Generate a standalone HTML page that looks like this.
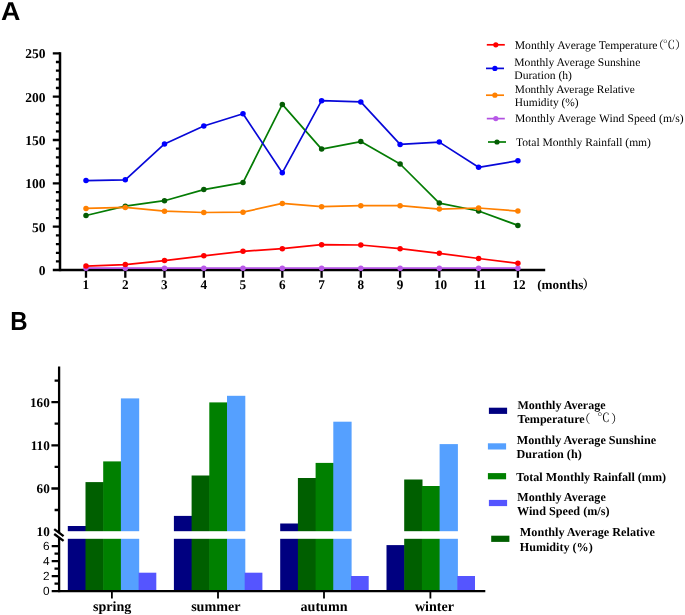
<!DOCTYPE html>
<html><head><meta charset="utf-8"><title>Figure</title>
<style>
html,body{margin:0;padding:0;background:#fff;}
svg{display:block}
text{text-rendering:geometricPrecision;font-family:"Liberation Serif","Noto Serif CJK SC",serif;fill:#000}
.sb{font-family:"Liberation Sans",sans-serif;font-weight:bold}
.b{font-weight:bold}
.sn{font-family:"Liberation Sans",sans-serif}
</style></head><body>
<svg width="685" height="615" viewBox="0 0 685 615">
<rect width="685" height="615" fill="#fff"/>
<text class="sb" transform="translate(1.1,20.4) scale(1.04,1)" font-size="25.8">A</text>
<text class="sb" transform="translate(10.25,330.1) scale(0.92,1)" font-size="26.1">B</text>
<g stroke="#000" stroke-width="2.5" fill="none">
<path d="M60 52.2V271.2"/>
<path d="M52.8 270H545.2"/>
</g>
<g stroke="#000" stroke-width="2.3" fill="none">
<path d="M55.9 261.4H60M55.9 252.8H60M55.9 244.1H60M55.9 235.4H60M52.8 226.7H60M55.9 218.1H60M55.9 209.4H60M55.9 200.7H60M55.9 192.1H60M52.8 183.4H60M55.9 174.7H60M55.9 166.0H60M55.9 157.4H60M55.9 148.7H60M52.8 140.0H60M55.9 131.3H60M55.9 122.7H60M55.9 114.0H60M55.9 105.3H60M52.8 96.7H60M55.9 88.0H60M55.9 79.3H60M55.9 70.6H60M55.9 62.0H60M52.8 53.3H60"/>
<path d="M86.0 270V277.8M125.3 270V277.8M164.5 270V277.8M203.8 270V277.8M243.0 270V277.8M282.3 270V277.8M321.6 270V277.8M360.8 270V277.8M400.1 270V277.8M439.3 270V277.8M478.6 270V277.8M517.9 270V277.8"/>
</g>
<g class="b" font-size="13.5" text-anchor="end">
<text x="45.6" y="275.0">0</text><text x="45.6" y="231.6">50</text><text x="45.6" y="188.3">100</text><text x="45.6" y="144.9">150</text><text x="45.6" y="101.6">200</text><text x="45.6" y="58.2">250</text>
</g>
<g class="b" font-size="13.2" text-anchor="middle">
<text x="85.9" y="289.1">1</text><text x="125.2" y="289.1">2</text><text x="164.4" y="289.1">3</text><text x="203.7" y="289.1">4</text><text x="242.9" y="289.1">5</text><text x="282.2" y="289.1">6</text><text x="321.5" y="289.1">7</text><text x="360.7" y="289.1">8</text><text x="400.0" y="289.1">9</text><text x="440.5" y="289.1">10</text><text x="479.8" y="289.1">11</text><text x="519.1" y="289.1">12</text>
</g>
<text class="b" font-size="13.2" x="537.2" y="289.1">(months<tspan dx="-1">）</tspan></text>
<polyline points="86.0,215.5 125.3,206.2 164.5,200.7 203.8,189.6 243.0,182.6 282.3,104.4 321.6,149.1 360.8,141.6 400.1,164.0 439.3,203.1 478.6,211.0 517.9,225.4" fill="none" stroke="#047c04" stroke-width="1.7" stroke-linejoin="round"/>
<circle cx="86.0" cy="215.5" r="2.75" fill="#045c04"/><circle cx="125.3" cy="206.2" r="2.75" fill="#045c04"/><circle cx="164.5" cy="200.7" r="2.75" fill="#045c04"/><circle cx="203.8" cy="189.6" r="2.75" fill="#045c04"/><circle cx="243.0" cy="182.6" r="2.75" fill="#045c04"/><circle cx="282.3" cy="104.4" r="2.75" fill="#045c04"/><circle cx="321.6" cy="149.1" r="2.75" fill="#045c04"/><circle cx="360.8" cy="141.6" r="2.75" fill="#045c04"/><circle cx="400.1" cy="164.0" r="2.75" fill="#045c04"/><circle cx="439.3" cy="203.1" r="2.75" fill="#045c04"/><circle cx="478.6" cy="211.0" r="2.75" fill="#045c04"/><circle cx="517.9" cy="225.4" r="2.75" fill="#045c04"/>
<polyline points="86.0,268.2 125.3,268.2 164.5,268.2 203.8,268.2 243.0,268.2 282.3,268.2 321.6,268.2 360.8,268.2 400.1,268.2 439.3,268.2 478.6,268.2 517.9,268.2" fill="none" stroke="#b050e0" stroke-width="1.7" stroke-linejoin="round"/>
<circle cx="86.0" cy="268.2" r="2.75" fill="#b858e8"/><circle cx="125.3" cy="268.2" r="2.75" fill="#b858e8"/><circle cx="164.5" cy="268.2" r="2.75" fill="#b858e8"/><circle cx="203.8" cy="268.2" r="2.75" fill="#b858e8"/><circle cx="243.0" cy="268.2" r="2.75" fill="#b858e8"/><circle cx="282.3" cy="268.2" r="2.75" fill="#b858e8"/><circle cx="321.6" cy="268.2" r="2.75" fill="#b858e8"/><circle cx="360.8" cy="268.2" r="2.75" fill="#b858e8"/><circle cx="400.1" cy="268.2" r="2.75" fill="#b858e8"/><circle cx="439.3" cy="268.2" r="2.75" fill="#b858e8"/><circle cx="478.6" cy="268.2" r="2.75" fill="#b858e8"/><circle cx="517.9" cy="268.2" r="2.75" fill="#b858e8"/>
<polyline points="86.0,208.4 125.3,207.4 164.5,211.2 203.8,212.5 243.0,212.2 282.3,203.4 321.6,206.7 360.8,205.7 400.1,205.7 439.3,209.1 478.6,208.0 517.9,211.1" fill="none" stroke="#ff8000" stroke-width="1.7" stroke-linejoin="round"/>
<circle cx="86.0" cy="208.4" r="2.75" fill="#ff8000"/><circle cx="125.3" cy="207.4" r="2.75" fill="#ff8000"/><circle cx="164.5" cy="211.2" r="2.75" fill="#ff8000"/><circle cx="203.8" cy="212.5" r="2.75" fill="#ff8000"/><circle cx="243.0" cy="212.2" r="2.75" fill="#ff8000"/><circle cx="282.3" cy="203.4" r="2.75" fill="#ff8000"/><circle cx="321.6" cy="206.7" r="2.75" fill="#ff8000"/><circle cx="360.8" cy="205.7" r="2.75" fill="#ff8000"/><circle cx="400.1" cy="205.7" r="2.75" fill="#ff8000"/><circle cx="439.3" cy="209.1" r="2.75" fill="#ff8000"/><circle cx="478.6" cy="208.0" r="2.75" fill="#ff8000"/><circle cx="517.9" cy="211.1" r="2.75" fill="#ff8000"/>
<polyline points="86.0,180.6 125.3,179.8 164.5,143.9 203.8,126.0 243.0,113.7 282.3,172.8 321.6,100.7 360.8,101.9 400.1,144.4 439.3,142.1 478.6,167.3 517.9,160.7" fill="none" stroke="#0808d8" stroke-width="1.7" stroke-linejoin="round"/>
<circle cx="86.0" cy="180.6" r="2.75" fill="#0000ff"/><circle cx="125.3" cy="179.8" r="2.75" fill="#0000ff"/><circle cx="164.5" cy="143.9" r="2.75" fill="#0000ff"/><circle cx="203.8" cy="126.0" r="2.75" fill="#0000ff"/><circle cx="243.0" cy="113.7" r="2.75" fill="#0000ff"/><circle cx="282.3" cy="172.8" r="2.75" fill="#0000ff"/><circle cx="321.6" cy="100.7" r="2.75" fill="#0000ff"/><circle cx="360.8" cy="101.9" r="2.75" fill="#0000ff"/><circle cx="400.1" cy="144.4" r="2.75" fill="#0000ff"/><circle cx="439.3" cy="142.1" r="2.75" fill="#0000ff"/><circle cx="478.6" cy="167.3" r="2.75" fill="#0000ff"/><circle cx="517.9" cy="160.7" r="2.75" fill="#0000ff"/>
<polyline points="86.0,266.1 125.3,264.6 164.5,260.6 203.8,255.8 243.0,251.3 282.3,248.7 321.6,244.7 360.8,245.0 400.1,248.7 439.3,253.3 478.6,258.5 517.9,263.3" fill="none" stroke="#ff0000" stroke-width="1.7" stroke-linejoin="round"/>
<circle cx="86.0" cy="266.1" r="2.75" fill="#ff0000"/><circle cx="125.3" cy="264.6" r="2.75" fill="#ff0000"/><circle cx="164.5" cy="260.6" r="2.75" fill="#ff0000"/><circle cx="203.8" cy="255.8" r="2.75" fill="#ff0000"/><circle cx="243.0" cy="251.3" r="2.75" fill="#ff0000"/><circle cx="282.3" cy="248.7" r="2.75" fill="#ff0000"/><circle cx="321.6" cy="244.7" r="2.75" fill="#ff0000"/><circle cx="360.8" cy="245.0" r="2.75" fill="#ff0000"/><circle cx="400.1" cy="248.7" r="2.75" fill="#ff0000"/><circle cx="439.3" cy="253.3" r="2.75" fill="#ff0000"/><circle cx="478.6" cy="258.5" r="2.75" fill="#ff0000"/><circle cx="517.9" cy="263.3" r="2.75" fill="#ff0000"/>
<path d="M486.8 44.8H504.8" stroke="#ff0000" stroke-width="1.7"/><circle cx="495.8" cy="44.8" r="2.6" fill="#ff0000"/>
<path d="M486 68.4H504" stroke="#0808d8" stroke-width="1.7"/><circle cx="494.9" cy="68.4" r="2.6" fill="#0000ff"/>
<path d="M486 95.2H504" stroke="#ff8000" stroke-width="1.7"/><circle cx="494.9" cy="95.2" r="2.6" fill="#ff8000"/>
<path d="M486.8 118.6H504.8" stroke="#b050e0" stroke-width="1.7"/><circle cx="495.8" cy="118.6" r="2.6" fill="#b858e8"/>
<path d="M488 142H506" stroke="#047c04" stroke-width="1.7"/><circle cx="497" cy="142" r="2.6" fill="#045c04"/>
<g font-size="11.6">
<text x="514.7" y="48.8" font-size="11.7">Monthly Average Temperature</text>
<text y="49.3"><tspan x="652.5" font-size="11.6">（</tspan><tspan x="662.7" dy="-0.3" font-size="12.3">℃</tspan><tspan x="675" dy="0.3" font-size="11.6">）</tspan></text>
<text x="514.3" y="65.6">Monthly Average Sunshine</text>
<text x="514.3" y="78.8">Duration (h)</text>
<text x="514.8" y="92.5" font-size="11.4">Monthly Average Relative</text>
<text x="514.8" y="106" font-size="11.45">Humidity (%)</text>
<text x="515" y="122.4" word-spacing="0.35">Monthly Average Wind Speed (m/s)</text>
<text x="516.1" y="146" font-size="11.55">Total Monthly Rainfall (mm)</text>
</g>
<rect x="67.8" y="526.0" width="18.3" height="64.2" fill="#000080"/><rect x="85.5" y="482.1" width="18.3" height="108.1" fill="#005f00"/><rect x="103.2" y="461.4" width="18.3" height="128.8" fill="#008000"/><rect x="120.9" y="398.4" width="18.3" height="191.8" fill="#55a0ff"/><rect x="138.6" y="572.7" width="17.7" height="17.5" fill="#5555ff"/>
<rect x="173.9" y="515.9" width="18.3" height="74.3" fill="#000080"/><rect x="191.6" y="475.5" width="18.3" height="114.7" fill="#005f00"/><rect x="209.3" y="402.4" width="18.3" height="187.8" fill="#008000"/><rect x="227.0" y="395.8" width="18.3" height="194.4" fill="#55a0ff"/><rect x="244.7" y="572.7" width="17.7" height="17.5" fill="#5555ff"/>
<rect x="280.2" y="523.5" width="18.3" height="66.7" fill="#000080"/><rect x="297.9" y="478.0" width="18.3" height="112.2" fill="#005f00"/><rect x="315.6" y="462.9" width="18.3" height="127.3" fill="#008000"/><rect x="333.3" y="421.7" width="18.3" height="168.5" fill="#55a0ff"/><rect x="351.0" y="576.0" width="17.7" height="14.2" fill="#5555ff"/>
<rect x="386.5" y="545.1" width="18.3" height="45.1" fill="#000080"/><rect x="404.2" y="479.5" width="18.3" height="110.7" fill="#005f00"/><rect x="421.9" y="486.0" width="18.3" height="104.2" fill="#008000"/><rect x="439.6" y="444.1" width="18.3" height="146.1" fill="#55a0ff"/><rect x="457.3" y="576.0" width="17.7" height="14.2" fill="#5555ff"/>
<rect x="64" y="531.2" width="430" height="7.6" fill="#fff"/>
<g stroke="#000" stroke-width="2.3" fill="none">
<path d="M59.1 366.5V592.2"/>
<path d="M54.6 510.0H59.1M51.4 488.5H59.1M54.6 466.9H59.1M51.4 445.3H59.1M54.6 423.7H59.1M51.4 402.2H59.1M54.6 380.6H59.1M54.5 583.6H59.1M51.7 576.1H59.1M54.5 568.7H59.1M51.7 561.2H59.1M54.5 553.7H59.1M51.7 546.2H59.1"/>
</g>
<path d="M51.7 591.1H485.3" stroke="#000" stroke-width="2.4"/>
<path d="M111.9 591V598.4M218.0 591V598.4M324.0 591V598.4M430.4 591V598.4" stroke="#000" stroke-width="1.8"/>
<path d="M54.4 531.75L63.4 538.35" stroke="#fff" stroke-width="3.2"/>
<path d="M54.2 529.15L63.6 536.15M54.2 534.05L63.6 540.85" stroke="#000" stroke-width="2.4"/>
<g class="b" font-size="13.2" text-anchor="end">
<text x="49.8" y="536.0">10</text><text x="49.8" y="492.9">60</text><text x="49.8" y="449.7">110</text><text x="49.8" y="406.6">160</text>
</g>
<g font-size="11.8" text-anchor="end" style="font-family:'Liberation Sans',sans-serif">
<text class="sn" x="49.6" y="595.3">0</text><text class="sn" x="49.6" y="580.3">2</text><text class="sn" x="49.6" y="565.4">4</text><text class="sn" x="49.6" y="550.4">6</text>
</g>
<g class="b" font-size="14.1" text-anchor="middle">
<text x="112.1" y="610.9">spring</text><text x="215.8" y="610.9">summer</text><text x="324" y="610.9">autumn</text><text x="434.5" y="610.9">winter</text>
</g>
<rect x="488.9" y="407.7" width="18.2" height="6.2" fill="#000080"/>
<rect x="487.9" y="443.3" width="18.2" height="6.2" fill="#55a0ff"/>
<rect x="487.9" y="473.1" width="18.2" height="6.2" fill="#008000"/>
<rect x="488.9" y="499.9" width="18.2" height="6.2" fill="#5555ff"/>
<rect x="491.2" y="535.7" width="18.2" height="6.2" fill="#005f00"/>
<g class="b" font-size="12.15">
<text x="517.4" y="408.6" font-size="12">Monthly Average</text>
<text x="517.5" y="422.7" font-size="12.1">Temperature</text>
<text font-weight="normal"><tspan x="578.5" y="422.7" font-size="12">（</tspan><tspan x="597.2" y="422.3" font-size="12.5">℃</tspan><tspan x="610.9" y="422.7" font-size="12">）</tspan></text>
<text x="516.7" y="444" font-size="12.15">Monthly Average Sunshine</text>
<text x="516.6" y="457.7">Duration (h)</text>
<text x="516.3" y="480.6" font-size="12.1">Total Monthly Rainfall (mm)</text>
<text x="517.3" y="501" font-size="12.05">Monthly Average</text>
<text x="517" y="514.9" font-size="12.2">Wind Speed (m/s)</text>
<text x="519.8" y="535.7" font-size="12.2">Monthly Average Relative</text>
<text x="519.8" y="550.7" font-size="12.1">Humidity (%)</text>
</g>
</svg>
</body></html>
